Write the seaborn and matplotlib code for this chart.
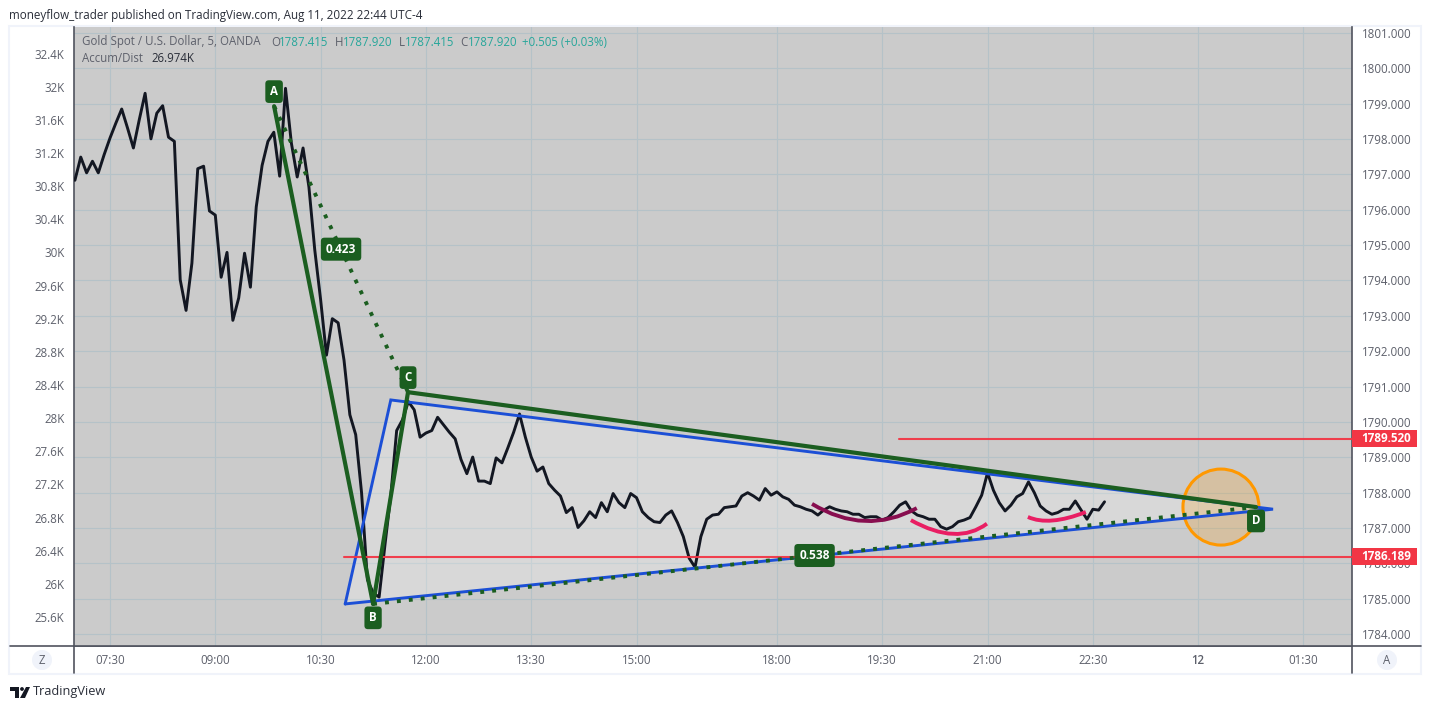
import numpy as np
import pandas as pd
import matplotlib
matplotlib.use("Agg")
import matplotlib.pyplot as plt
import seaborn as sns
from matplotlib.patches import Ellipse, PathPatch, Rectangle, Circle, Polygon
from matplotlib.path import Path

# ── data ──────────────────────────────────────────────────────
# accumulation/distribution, thousands, one value per 5 min bar
ad_values = [
    30.87, 31.15, 30.96, 31.10, 30.96, 31.18, 31.38, 31.56, 31.73, 31.50,
    31.26, 31.60, 31.92, 31.37, 31.68, 31.77, 31.39, 31.34, 29.67, 29.30,
    29.87, 31.01, 31.04, 30.50, 30.45, 29.70, 30.00, 29.18, 29.45, 29.99,
    29.58, 30.55, 31.05, 31.34, 31.45, 30.92, 31.98, 31.32, 30.91, 31.26,
    30.79, 30.03, 29.43, 28.76, 29.20, 29.15, 28.70, 28.04, 27.80, 27.10,
    26.05, 25.89, 25.84, 26.47, 27.07, 27.85, 27.98, 28.20, 28.10, 27.77,
    27.82, 27.85, 28.01, 27.92, 27.83, 27.75, 27.50, 27.33, 27.53, 27.24,
    27.24, 27.21, 27.52, 27.46, 27.64, 27.83, 28.05, 27.77, 27.53, 27.36,
    27.41, 27.21, 27.13, 27.06, 26.86, 26.92, 26.68, 26.76, 26.87, 26.80,
    26.98, 26.87, 27.09, 26.98, 26.92, 27.09, 27.04, 26.87, 26.80, 26.75,
    26.74, 26.83, 26.88, 26.74, 26.57, 26.31, 26.20, 26.57, 26.78, 26.83,
    26.84, 26.92, 26.93, 26.94, 27.06, 27.10, 27.06, 27.01, 27.15, 27.07,
    27.11, 27.05, 27.02, 26.95, 26.93, 26.90, 26.88, 26.83, 26.89, 26.93,
    26.90, 26.88, 26.87, 26.84, 26.84, 26.80, 26.81, 26.81, 26.77, 26.80,
    26.87, 26.95, 26.99, 26.88, 26.83, 26.81, 26.78, 26.78, 26.69, 26.66,
    26.69, 26.75, 26.77, 26.80, 26.93, 27.07, 27.34, 27.13, 26.98, 26.88,
    26.95, 27.05, 27.09, 27.23, 27.10, 26.94, 26.88, 26.84, 26.86, 26.90,
    26.90, 27.00, 26.89, 26.78, 26.90, 26.89, 26.99,
]

ad_ticks = [25.6, 26, 26.4, 26.8, 27.2, 27.6, 28, 28.4, 28.8, 29.2, 29.6,
            30, 30.4, 30.8, 31.2, 31.6, 32, 32.4]
ad_tick_labels = ["25.6K", "26K", "26.4K", "26.8K", "27.2K", "27.6K", "28K",
                  "28.4K", "28.8K", "29.2K", "29.6K", "30K", "30.4K", "30.8K",
                  "31.2K", "31.6K", "32K", "32.4K"]
price_ticks = list(range(1784, 1802))
time_ticks = [6, 24, 42, 60, 78, 96, 120, 138, 156, 174, 192, 210]
time_labels = ["07:30", "09:00", "10:30", "12:00", "13:30", "15:00", "18:00",
               "19:30", "21:00", "22:30", "12", "01:30"]

# ABCD pattern (bar, price)
abcd_names = ["A", "B", "C", "D"]
abcd_bars = [34.05, 50.97, 56.94, 201.9]
abcd_prices = [1798.93, 1784.85, 1790.84, 1787.59]
ratio_ac = "0.423"
ratio_bd = "0.538"

# triangle
tri_bars = [46.2, 54.0, 204.8]
tri_prices = [1784.85, 1790.62, 1787.53]

# horizontal rays
ray_starts = [140.9, 46.0]
ray_prices = [1789.520, 1786.189]

# curved brush strokes: start, control, end
curves = [
    ([126.0, 135.1, 143.9], [1787.68, 1786.77, 1787.56], "#880e4f"),
    ([142.9, 150.8, 155.9], [1787.22, 1786.49, 1787.12], "#e91e63"),
    ([162.9, 166.5, 172.8], [1787.31, 1787.04, 1787.45], "#e91e63"),
]

# orange circle
circle_bar, circle_price = 195.9, 1787.59

# ── colours ───────────────────────────────────────────────────
GREEN = "#1b5e20"
BLUE = "#1c4fd6"
RED = "#f23645"
ORANGE = "#ff9800"
GRID = "#b5c2c8"
AXIS = "#50535e"
TEXT = "#5d606b"
TEAL = "#26a69a"
FRAME = "#f0f3fa"

W, H = 1432, 710
L, R, T, B = 74, 1352, 27, 646

sns.set_theme(style="white")
plt.rcParams["font.family"] = ["Open Sans", "DejaVu Sans"]

fig = plt.figure(figsize=(W / 100, H / 100), dpi=100, facecolor="white")

# page furniture, in pixels
page = fig.add_axes([0, 0, 1, 1], zorder=0)
page.set_xlim(0, W)
page.set_ylim(H, 0)
page.axis("off")
page.add_patch(Rectangle((9, 26), 1412, 648, fc="white", ec=FRAME, lw=1.5))
page.plot([10, 1421], [B, B], color=AXIS, lw=1.2)
page.plot([L, L], [B, 673], color=AXIS, lw=1.2)
page.plot([R, R], [B, 673], color=AXIS, lw=1.2)
page.add_patch(Circle((42, 660), 10, fc=FRAME, ec="none"))
page.add_patch(Circle((1387, 660), 10, fc=FRAME, ec="none"))
page.text(42, 660, "Z", ha="center", va="center", fontsize=8.3, color=TEXT)
page.text(1387, 660, "A", ha="center", va="center", fontsize=8.3, color=TEXT)
page.text(9, 15, "moneyflow_trader published on TradingView.com, Aug 11, 2022 22:44 UTC-4",
          ha="left", va="center", fontsize=8.4, color="#2a2e39")
page.text(33, 692, "TradingView", ha="left", va="center", fontsize=9.2, color="#2a2e39")
# logo
page.add_patch(Polygon([(10, 687), (19, 687), (19, 698), (15, 698), (15, 691), (10, 691)],
                       fc="#131722", ec="none"))
page.add_patch(Circle((22, 689), 1.9, fc="#131722", ec="none"))
page.add_patch(Polygon([(26, 687), (30, 687), (25, 698), (20, 698)], fc="#131722", ec="none"))

rect = [L / W, 1 - B / H, (R - L) / W, (B - T) / H]

# price axis carries the grid and the right labels
ax = fig.add_axes(rect, zorder=1, facecolor="#cbcbcb")
ax.set_xlim(-0.154, 218.3)
ax.set_ylim(1783.66, 1801.17)
ax.set_xticks(time_ticks, time_labels)
ax.set_yticks(price_ticks, [f"{p}.000" for p in price_ticks])
ax.grid(True, color=GRID, lw=0.8)
ax.set_axisbelow(True)
ax.tick_params(axis="y", length=0, pad=7, labelsize=8.3, labelcolor=TEXT)
ax.tick_params(axis="x", length=0, pad=6, labelsize=8.3, labelcolor=TEXT)
for lab in ax.get_xticklabels():
    if lab.get_text() == "12":
        lab.set_fontweight("semibold")
for side, spine in ax.spines.items():
    spine.set_visible(side != "top")
    spine.set_color(AXIS)
    spine.set_linewidth(1.2)
ax.fill(tri_bars, tri_prices, color="white", alpha=0.25, lw=0, zorder=1.5)

# A/D line on its own left scale
ax_ad = ax.twinx()
ax_ad.set_zorder(2)
df = pd.DataFrame({"bar": np.arange(len(ad_values)), "ad": ad_values})
sns.lineplot(data=df, x="bar", y="ad", ax=ax_ad, color="#131722", lw=2.1,
             estimator=None, sort=False)
ax_ad.set_ylim(25.25, 32.72)
ax_ad.set_yticks(ad_ticks, ad_tick_labels)
ax_ad.yaxis.tick_left()
ax_ad.tick_params(axis="y", length=0, pad=7, labelsize=8.3, labelcolor=TEXT)
ax_ad.set_xlabel("")
ax_ad.set_ylabel("")
ax_ad.patch.set_visible(False)
for spine in ax_ad.spines.values():
    spine.set_visible(False)

# drawings on top, in price units
draw = ax.twinx()
draw.set_zorder(3)
draw.set_ylim(ax.get_ylim())
draw.set_axis_off()

# twinx moved the price labels, put them back on the right
ax.yaxis.tick_right()
ax.tick_params(axis="y", length=0)

draw.plot(tri_bars + tri_bars[:1], tri_prices + tri_prices[:1], color=BLUE, lw=2.1,
          solid_joinstyle="miter")
label_w = 65 / (R - L)
label_h = 17 / 35.35
for start, price in zip(ray_starts, ray_prices):
    draw.plot([start, ax.get_xlim()[1]], [price, price], color=RED, lw=1.5, alpha=0.95)
    draw.add_patch(Rectangle((1, price - label_h / 2), label_w, label_h, fc=RED, ec="none",
                             transform=draw.get_yaxis_transform(), clip_on=False))
    draw.annotate(f"{price:.3f}", xy=(1, price), xycoords=draw.get_yaxis_transform(),
                  xytext=(6.8, 0), textcoords="offset points", ha="left", va="center",
                  fontsize=8.4, fontweight="bold", color="white", annotation_clip=False)

px_w = 76 / 5.85
px_h = 76 / 35.35
draw.add_patch(Ellipse((circle_bar, circle_price), px_w, px_h, fc=ORANGE, ec="none", alpha=0.2))
draw.add_patch(Ellipse((circle_bar, circle_price), px_w, px_h, fc="none", ec=ORANGE, lw=2.2))

for cx, cy, col in curves:
    verts = list(zip(cx, cy))
    draw.add_patch(PathPatch(Path(verts, [Path.MOVETO, Path.CURVE3, Path.CURVE3]),
                             fc="none", ec=col, lw=2.8, capstyle="butt"))

# pattern legs
draw.plot(abcd_bars[:2], abcd_prices[:2], color=GREEN, lw=3)
draw.plot(abcd_bars[1:3], abcd_prices[1:3], color=GREEN, lw=3)
draw.plot(abcd_bars[2:], abcd_prices[2:], color=GREEN, lw=3)
dots = (0, (1, 2.08))
draw.plot([abcd_bars[0], abcd_bars[2]], [abcd_prices[0], abcd_prices[2]],
          color=GREEN, lw=2.8, ls=dots, dash_capstyle="butt")
draw.plot([abcd_bars[1], abcd_bars[3]], [abcd_prices[1], abcd_prices[3]],
          color=GREEN, lw=2.8, ls=dots, dash_capstyle="butt")

tag = dict(boxstyle="round,pad=0.42,rounding_size=0.3", fc=GREEN, ec="none")
tag_offsets = [10.5, -10, 10.5, -10]
for name, bx, py, off in zip(abcd_names, abcd_bars, abcd_prices, tag_offsets):
    draw.annotate(name, xy=(bx, py), xytext=(0, off), textcoords="offset points",
                  ha="center", va="center", fontsize=8.3, fontweight="bold", color="white",
                  bbox=tag)
for text, i, j in [(ratio_ac, 0, 2), (ratio_bd, 1, 3)]:
    draw.text((abcd_bars[i] + abcd_bars[j]) / 2, (abcd_prices[i] + abcd_prices[j]) / 2, text,
              ha="center", va="center", fontsize=8.6, fontweight="bold", color="white", bbox=tag)

# legend lines at top left
fig.text(82 / W, 1 - 42 / H, "Gold Spot / U.S. Dollar, 5, OANDA", ha="left", va="center",
         fontsize=8.3, color=TEXT, zorder=5)
for x, s, c in [(271, "O", TEXT), (279, "1787.415", TEAL), (335, "H", TEXT), (343, "1787.920", TEAL),
                (399, "L", TEXT), (405, "1787.415", TEAL), (460, "C", TEXT), (468, "1787.920", TEAL),
                (522, "+0.505 (+0.03%)", TEAL)]:
    fig.text(x / W, 1 - 42 / H, s, ha="left", va="center", fontsize=8.3, color=c, zorder=5)
fig.text(82 / W, 1 - 59 / H, "Accum/Dist", ha="left", va="center", fontsize=8.3, color=TEXT, zorder=5)
fig.text(151 / W, 1 - 59 / H, "26.974K", ha="left", va="center", fontsize=8.3, color="#2a2e39", zorder=5)

fig.savefig("out.png", dpi=100, facecolor="white")
